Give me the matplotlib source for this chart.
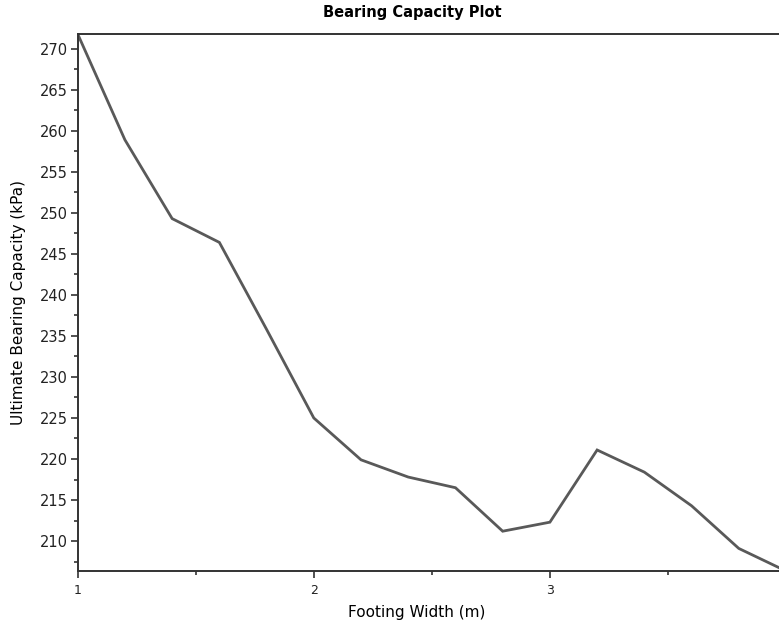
import numpy as np
import matplotlib
matplotlib.use('Agg')
import matplotlib.pyplot as plt
from matplotlib.ticker import MultipleLocator, FixedLocator

# footing width (m) and ultimate bearing capacity (kPa)
widths = [1.0, 1.2, 1.4, 1.6, 1.8, 2.0, 2.2, 2.4, 2.6, 2.8, 3.0, 3.2, 3.4, 3.6, 3.8, 4.0]
capacity = [271.8, 258.9, 249.3, 246.4, 235.8, 225.0, 219.9, 217.8, 216.5, 211.2,
            212.3, 221.1, 218.4, 214.3, 209.1, 206.35]
x_ticks = [1, 2, 3]
x_minor = [1.5, 2.5, 3.5]

W, H = 779, 626
fig = plt.figure(figsize=(W / 100, H / 100), dpi=100)
# axes runs a little past the right edge of the figure, like in the reference
left, right, top, bottom = 77.7, 786, 34, 571
ax = fig.add_axes([left / W, 1 - bottom / H, (right - left) / W, (bottom - top) / H])

ax.plot(widths, capacity, color='#595959', linewidth=2.0, solid_joinstyle='miter')
ax.set_xlim(min(widths), max(widths))
ax.set_ylim(min(capacity), max(capacity))

ax.xaxis.set_major_locator(FixedLocator(x_ticks))
ax.xaxis.set_minor_locator(FixedLocator(x_minor))
ax.yaxis.set_major_locator(MultipleLocator(5))
ax.yaxis.set_minor_locator(MultipleLocator(2.5))

for s in ax.spines.values():
    s.set_color('#333333')
    s.set_linewidth(1.4)

ax.tick_params(axis='both', which='major', length=5, width=1.2, color='#333333')
ax.tick_params(axis='both', which='minor', length=3, width=1.2, color='#333333')
ax.tick_params(axis='y', labelsize=10.5, pad=2, labelcolor='#222222')
ax.tick_params(axis='x', labelsize=9, pad=4, labelcolor='#222222')

ax.set_title('Bearing Capacity Plot', fontsize=10.5, fontweight='bold', x=0.472, pad=12)
ax.set_xlabel('Footing Width (m)', fontsize=11)
ax.xaxis.set_label_coords(0.478, -0.064)
ax.set_ylabel('Ultimate Bearing Capacity (kPa)', fontsize=11)
ax.yaxis.set_label_coords(-0.073, 0.5)

fig.savefig('out.png', dpi=100)
